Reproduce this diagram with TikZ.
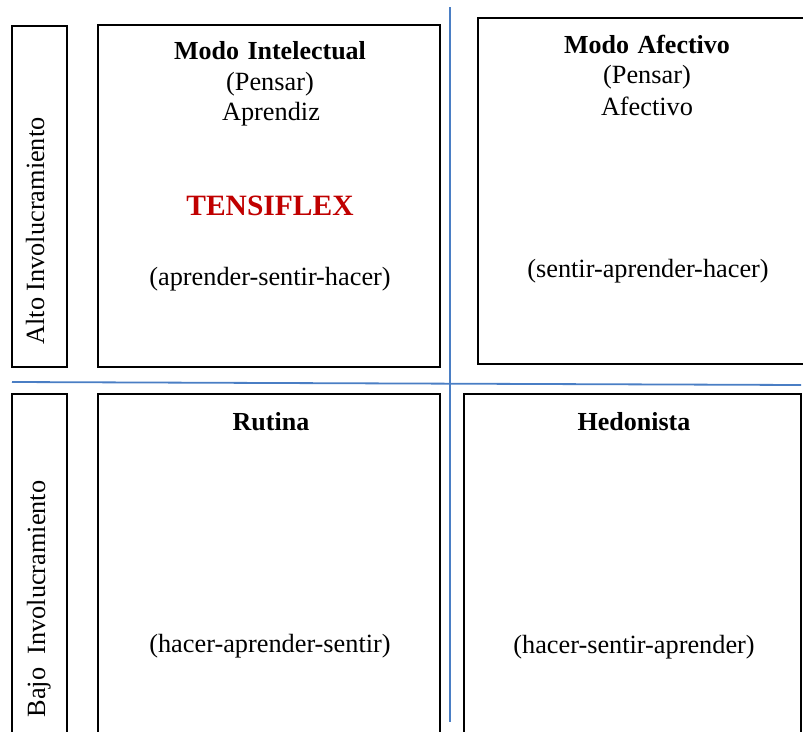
\documentclass[tikz,border=0pt]{standalone}
\usepackage{fontspec}
\setmainfont{Liberation Serif}
\definecolor{axisblue}{HTML}{4A7EC4}
\definecolor{tred}{HTML}{C00000}
\begin{document}
\begin{tikzpicture}[x=1pt,y=-1pt,
  box/.style={draw=black, line width=1.6pt, inner sep=0pt, outer sep=0pt, anchor=north west},
  txt/.style={anchor=base, inner sep=0pt, font=\fontsize{26.3}{30}\selectfont},
  ttl/.style={anchor=base, inner sep=0pt, font=\fontsize{26}{30}\selectfont\bfseries},
  brand/.style={anchor=base, inner sep=0pt, text=tred, font=\fontsize{29.5}{32}\selectfont\bfseries},
  axis/.style={draw=axisblue, line width=1.8pt}]
\useasboundingbox (0,0) rectangle (803,731);
\clip (0,0) rectangle (803,731);
% axes
\coordinate (hl) at (12,382);
\coordinate (hr) at (801,385);
\coordinate (vt) at (450,7);
\coordinate (vb) at (450,722);
\draw[axis] (hl) -- (hr);
\draw[axis] (vt) -- (vb);
% side label boxes
\node[box, minimum width=55, minimum height=341] (sa) at (12,26) {};
\node[box, minimum width=55, minimum height=360] (sb) at (12,394) {};
\node[txt, rotate=90] (la) at (44,231) {Alto Involucramiento};
\node[txt, rotate=90] (lb) at (45,599) {Bajo\ \ Involucramiento};
% quadrant boxes
\node[box, minimum width=342, minimum height=342] (q1) at (98,25) {};
\node[box, minimum width=345, minimum height=346] (q2) at (478,18) {};
\node[box, minimum width=342, minimum height=360] (q3) at (98,394) {};
\node[box, minimum width=337, minimum height=360] (q4) at (464,394) {};
% quadrant 1
\node[ttl] (q1a) at (270,59) {Modo\hspace{2pt} Intelectual};
\node[txt] (q1b) at (270,90) {(Pensar)};
\node[txt] (q1c) at (271,120) {Aprendiz};
\node[brand] (q1d) at (270,215) {TENSIFLEX};
\node[txt] (q1e) at (270,285) {(aprender-sentir-hacer)};
% quadrant 2
\node[ttl] (q2a) at (647,53) {Modo\hspace{2pt} Afectivo};
\node[txt] (q2b) at (647,83) {(Pensar)};
\node[txt] (q2c) at (647,115) {Afectivo};
\node[txt] (q2d) at (648,277) {(sentir-aprender-hacer)};
% quadrant 3
\node[ttl] (q3a) at (271,430) {Rutina};
\node[txt] (q3b) at (270,652) {(hacer-aprender-sentir)};
% quadrant 4
\node[ttl] (q4a) at (634,430) {Hedonista};
\node[txt] (q4b) at (634,653) {(hacer-sentir-aprender)};
\end{tikzpicture}
\end{document}
